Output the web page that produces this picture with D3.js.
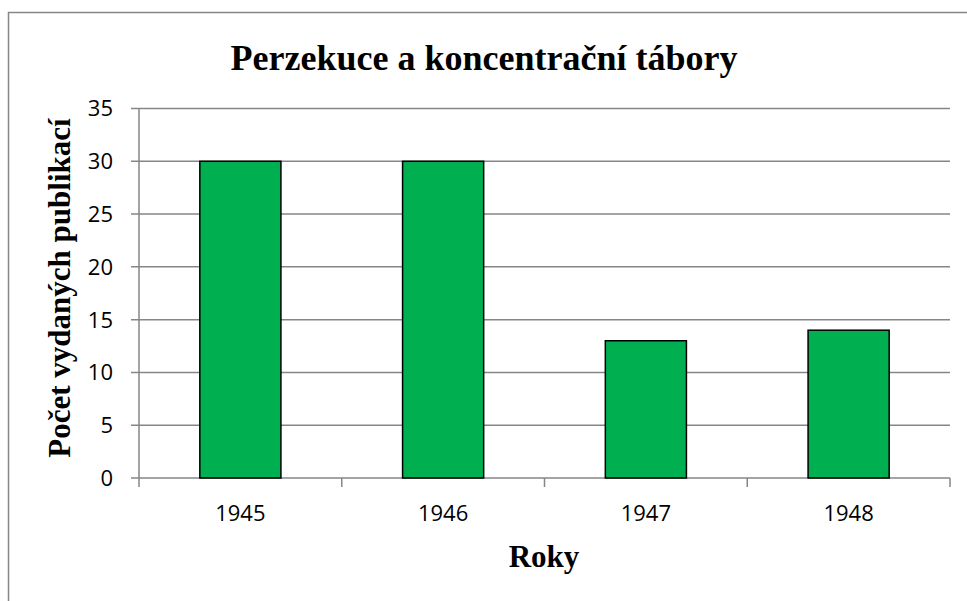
<!DOCTYPE html>
<html><head><meta charset="utf-8">
<script src="https://cdn.jsdelivr.net/npm/d3@7"></script>
<style>body{margin:0;background:#fff}</style>
</head><body>
<script>
const categories = ["1945", "1946", "1947", "1948"];
const values = [30, 30, 13, 14];
const yTicks = [0, 5, 10, 15, 20, 25, 30, 35];
const title = "Perzekuce a koncentrační tábory";
const xTitle = "Roky";
const yTitle = "Počet vydaných publikací";

(function () {
const W = 967, H = 601;
const svg = d3.select("body").append("svg").attr("width", W).attr("height", H);
svg.append("rect").attr("x", 8.5).attr("y", 12.5).attr("width", 1000).attr("height", 700)
  .attr("fill", "#fff").attr("stroke", "#868686").attr("stroke-width", 1.5);

const pLeft = 139, pRight = 950, pTop = 108.5, pBottom = 478;
const x = d3.scaleBand().domain(categories).range([pLeft, pRight]).paddingInner(0.6).paddingOuter(0.3);
const y = d3.scaleLinear().domain([0, 35]).range([pBottom, pTop]);

svg.append("g").selectAll("line").data(yTicks).join("line")
  .attr("x1", pLeft - 8).attr("x2", pRight)
  .attr("y1", d => y(d)).attr("y2", d => y(d))
  .attr("stroke", "#868686").attr("stroke-width", 1.5);
svg.append("line").attr("x1", pLeft).attr("x2", pLeft).attr("y1", pTop).attr("y2", pBottom)
  .attr("stroke", "#868686").attr("stroke-width", 1.5);
const step = (pRight - pLeft) / categories.length;
svg.append("g").selectAll("line").data(d3.range(categories.length + 1)).join("line")
  .attr("x1", i => pLeft + i * step).attr("x2", i => pLeft + i * step)
  .attr("y1", pBottom).attr("y2", pBottom + 9)
  .attr("stroke", "#868686").attr("stroke-width", 1.5);

svg.append("g").selectAll("rect").data(values).join("rect")
  .attr("x", (d, i) => x(categories[i]))
  .attr("y", d => y(d))
  .attr("width", x.bandwidth())
  .attr("height", d => y(0) - y(d))
  .attr("fill", "#00b050").attr("stroke", "#000").attr("stroke-width", 1.5);

svg.append("g").selectAll("text").data(yTicks).join("text")
  .attr("x", 113).attr("y", d => y(d)).attr("dy", "0.36em")
  .attr("text-anchor", "end")
  .attr("font-family", "'Open Sans', sans-serif").attr("font-size", 22).attr("fill", "#000")
  .text(d => d);
svg.append("g").selectAll("text").data(categories).join("text")
  .attr("x", d => x(d) + x.bandwidth() / 2).attr("y", 521)
  .attr("text-anchor", "middle")
  .attr("font-family", "'Open Sans', sans-serif").attr("font-size", 22).attr("fill", "#000")
  .text(d => d);

svg.append("text").attr("x", 484).attr("y", 70).attr("text-anchor", "middle")
  .attr("font-family", "'Liberation Serif', serif").attr("font-weight", "bold").attr("font-size", 36)
  .text(title);
svg.append("text").attr("x", 544).attr("y", 567).attr("text-anchor", "middle")
  .attr("font-family", "'Liberation Serif', serif").attr("font-weight", "bold").attr("font-size", 31)
  .text(xTitle);
svg.append("text").attr("transform", "translate(70,288) rotate(-90)").attr("text-anchor", "middle")
  .attr("font-family", "'Liberation Serif', serif").attr("font-weight", "bold").attr("font-size", 31)
  .text(yTitle);
})();
</script>
</body></html>
